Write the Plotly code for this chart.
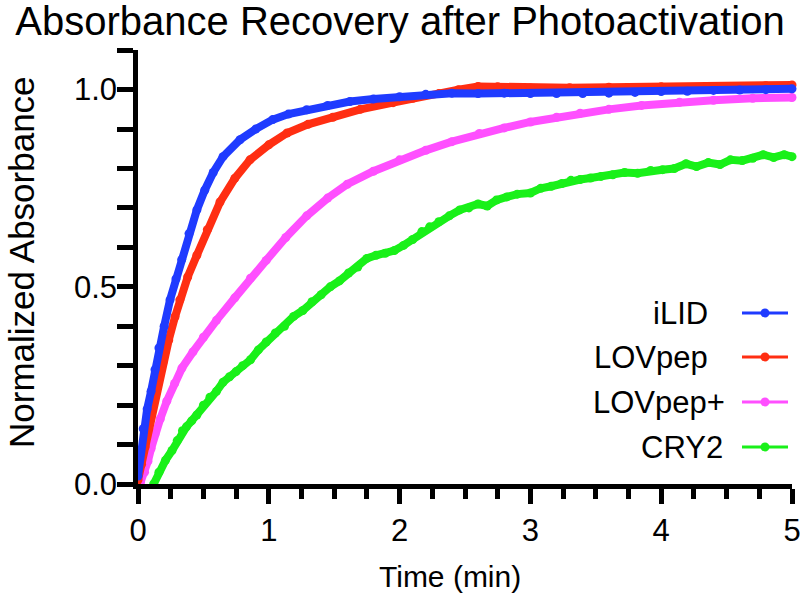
import plotly.graph_objects as go

# ---------------- data ----------------
ilid_t = [0.0, 0.02, 0.04, 0.07, 0.10, 0.13, 0.16, 0.20, 0.245, 0.29, 0.334, 0.39, 0.45, 0.51,
          0.575, 0.65, 0.78, 0.90, 1.03, 1.15, 1.29, 1.45, 1.62, 1.80, 2.0, 2.2, 2.4, 2.6, 2.8,
          3.0, 3.2, 3.4, 3.6, 3.8, 4.0, 4.2, 4.4, 4.6, 4.8, 5.0]
ilid_v = [0.02, 0.08, 0.14, 0.19, 0.235, 0.29, 0.345, 0.40, 0.467, 0.52, 0.569, 0.635, 0.695, 0.745,
          0.79, 0.83, 0.873, 0.90, 0.924, 0.938, 0.949, 0.96, 0.97, 0.976, 0.982, 0.988, 0.991,
          0.99, 0.991, 0.99, 0.99, 0.99, 0.991, 0.993, 0.995, 0.996, 0.998, 0.999, 1.0, 1.002]

lovpep_t = [0.0, 0.027, 0.054, 0.08, 0.107, 0.15, 0.19, 0.235, 0.283, 0.32, 0.38, 0.45, 0.53,
            0.627, 0.74, 0.856, 1.0, 1.14, 1.3, 1.49, 1.7, 1.95, 2.1, 2.3, 2.45, 2.6, 2.75, 2.9,
            3.0, 3.3, 3.6, 4.0, 4.4, 4.8, 5.0]
lovpep_v = [0.01, 0.05, 0.094, 0.14, 0.188, 0.25, 0.307, 0.365, 0.424, 0.467, 0.525, 0.58, 0.645,
            0.715, 0.775, 0.822, 0.86, 0.89, 0.912, 0.93, 0.95, 0.967, 0.978, 0.99, 1.0, 1.008,
            1.007, 1.003, 1.004, 1.005, 1.006, 1.007, 1.008, 1.01, 1.012]

lovpepplus_t = [0.02, 0.05, 0.076, 0.10, 0.13, 0.17, 0.22, 0.28, 0.336, 0.42, 0.5, 0.6, 0.74,
                0.86, 0.98, 1.13, 1.29, 1.45, 1.6, 1.8, 2.0, 2.2, 2.4, 2.61, 2.8, 3.0, 3.2,
                3.38, 3.6, 3.85, 4.14, 4.4, 4.7, 5.0]
lovpepplus_v = [0.005, 0.03, 0.058, 0.09, 0.127, 0.165, 0.21, 0.255, 0.294, 0.335, 0.372, 0.415,
                0.472, 0.522, 0.567, 0.625, 0.68, 0.725, 0.76, 0.793, 0.822, 0.846, 0.868, 0.889,
                0.903, 0.918, 0.93, 0.94, 0.95, 0.96, 0.968, 0.973, 0.978, 0.98]

cry2_t = [0.12, 0.16, 0.21, 0.26, 0.30, 0.34, 0.37, 0.41, 0.45, 0.50, 0.55, 0.60, 0.65, 0.70,
          0.75, 0.80, 0.86, 0.92, 0.98, 1.05, 1.12, 1.19, 1.26, 1.33, 1.40, 1.47, 1.54, 1.61,
          1.68, 1.75, 1.82, 1.89, 1.96, 2.03, 2.10, 2.17, 2.23, 2.30, 2.38, 2.46, 2.53, 2.60,
          2.67, 2.74, 2.82, 2.90, 3.0, 3.08, 3.16, 3.24, 3.31, 3.38, 3.46, 3.54, 3.63, 3.72,
          3.82, 3.92, 4.01, 4.10, 4.19, 4.27, 4.36, 4.45, 4.53, 4.62, 4.70, 4.78, 4.86, 4.94, 5.0]
cry2_v = [0.0, 0.03, 0.06, 0.085, 0.11, 0.135, 0.145, 0.16, 0.175, 0.20, 0.22, 0.235, 0.258,
          0.272, 0.285, 0.30, 0.315, 0.34, 0.36, 0.383, 0.40, 0.425, 0.44, 0.462, 0.48, 0.50,
          0.515, 0.535, 0.55, 0.572, 0.58, 0.585, 0.592, 0.605, 0.62, 0.64, 0.652, 0.665, 0.68,
          0.695, 0.70, 0.71, 0.705, 0.72, 0.728, 0.735, 0.738, 0.75, 0.755, 0.762, 0.77, 0.772,
          0.776, 0.78, 0.784, 0.79, 0.788, 0.795, 0.797, 0.80, 0.812, 0.805, 0.815, 0.81, 0.822,
          0.82, 0.826, 0.835, 0.828, 0.835, 0.83]

series_names = ["iLID", "LOVpep", "LOVpep+", "CRY2"]
series_colors = ["#1f3bff", "#ff2e12", "#ff4fff", "#19f019"]

title_text = "Absorbance Recovery after Photoactivation"
x_title = "Time (min)"
y_title = "Normalized Absorbance"
x_ticks = [0, 1, 2, 3, 4, 5]
y_ticks = [0.0, 0.5, 1.0]

# ---------------- figure ----------------
FONT = "Liberation Sans, Arial, sans-serif"

W, H = 800, 597
ML, MR, MT, MB = 138, 8, 50, 113
pw = W - ML - MR
ph = H - MT - MB

def px2paper_x(px):
    return (px - ML) / pw

def px2paper_y(py):
    return (H - MB - py) / ph

data = {
    "iLID": (ilid_t, ilid_v),
    "LOVpep": (lovpep_t, lovpep_v),
    "LOVpep+": (lovpepplus_t, lovpepplus_v),
    "CRY2": (cry2_t, cry2_v),
}

fig = go.Figure()
for name in ["CRY2", "LOVpep+", "LOVpep", "iLID"]:
    t, v = data[name]
    col = series_colors[series_names.index(name)]
    fig.add_trace(go.Scatter(
        x=t, y=v, name=name, mode="lines+markers",
        line=dict(color=col, width=8),
        marker=dict(color=col, size=9),
        cliponaxis=False, showlegend=False,
    ))

# manual legend: text on the left, line + dot on the right
leg_y_px = [313, 357, 402, 447]
leg_text_right_px = [710, 710, 727, 725]
for i, name in enumerate(series_names):
    yy = px2paper_y(leg_y_px[i])
    fig.add_annotation(
        x=px2paper_x(leg_text_right_px[i]), y=yy, xref="paper", yref="paper",
        text=name, showarrow=False, xanchor="right", yanchor="middle",
        font=dict(family=FONT, size=31, color="black"),
    )
    fig.add_shape(type="line", xref="paper", yref="paper",
                  x0=px2paper_x(742), x1=px2paper_x(788), y0=yy, y1=yy,
                  line=dict(color=series_colors[i], width=3))
    r = 4.5
    fig.add_shape(type="circle", xref="paper", yref="paper",
                  x0=px2paper_x(765 - r), x1=px2paper_x(765 + r),
                  y0=px2paper_y(leg_y_px[i] + r), y1=px2paper_y(leg_y_px[i] - r),
                  fillcolor=series_colors[i], line=dict(width=0))

# axis titles as annotations for exact placement
fig.add_annotation(x=px2paper_x(450), y=px2paper_y(576), xref="paper", yref="paper",
                   text=x_title, showarrow=False, xanchor="center", yanchor="middle",
                   font=dict(family=FONT, size=30, color="black"))
fig.add_annotation(x=px2paper_x(21), y=px2paper_y(262), xref="paper", yref="paper",
                   text=y_title, showarrow=False, xanchor="center", yanchor="middle",
                   textangle=-90, font=dict(family=FONT, size=35, color="black"))

fig.update_layout(
    template="none",
    width=W, height=H, autosize=False,
    margin=dict(l=ML, r=MR, t=MT, b=MB, pad=0, autoexpand=False),
    paper_bgcolor="white", plot_bgcolor="white",
    title=dict(text=title_text, x=(400 - ML) / pw, xanchor="center", xref="paper",
               y=1 - 7 / H, yref="container", yanchor="top",
               font=dict(family=FONT, size=40, color="black")),
    showlegend=False,
)

fig.update_xaxes(
    range=[0, 5], showgrid=False, zeroline=False, automargin=False,
    showline=True, linecolor="black", linewidth=5,
    tickmode="array", tickvals=x_ticks, ticktext=[str(t) for t in x_ticks],
    ticks="outside", ticklen=15, tickwidth=4.5, tickcolor="black",
    minor=dict(dtick=0.25, tick0=0, ticks="outside", ticklen=10, tickwidth=4.5,
               tickcolor="black", showgrid=False),
    tickfont=dict(family=FONT, size=31, color="black"),
    ticklabeloverflow="allow",
)
fig.update_yaxes(
    range=[0, 1.1005], showgrid=False, zeroline=False, automargin=False,
    showline=True, linecolor="black", linewidth=4.5,
    tickmode="array", tickvals=y_ticks, ticktext=["%.1f" % t for t in y_ticks],
    ticks="outside", ticklen=16, tickwidth=4.5, tickcolor="black",
    minor=dict(dtick=0.1, tick0=0, ticks="outside", ticklen=16, tickwidth=4.5,
               tickcolor="black", showgrid=False),
    tickfont=dict(family=FONT, size=31, color="black"),
    ticklabelstandoff=-6,
)

fig.write_html("out.html", config={"displayModeBar": False},
               post_script="document.body.style.margin='0';")
